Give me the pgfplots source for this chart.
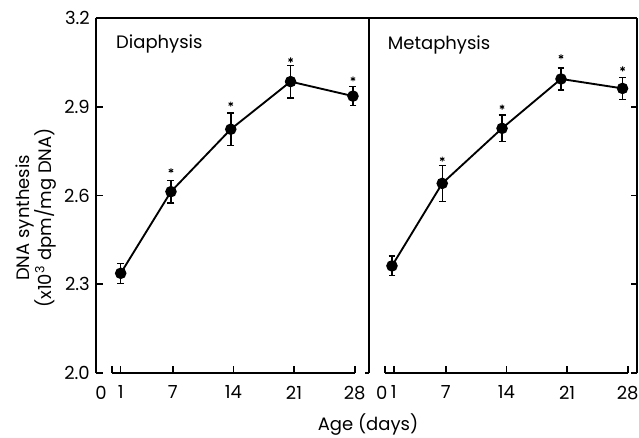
\documentclass[border=0pt]{standalone}
\usepackage{pgfplots}
\pgfplotsset{compat=1.18}
\usepackage{fontspec}
\setmainfont{Poppins}
\begin{document}
\fontsize{13.5pt}{16pt}\selectfont
\begin{tikzpicture}
\useasboundingbox (0,0) rectangle (479.25pt,327.75pt);
\pgfplotsset{
  panel/.style={
    scale only axis,
    height=266.25pt,
    ymin=2.0, ymax=3.2, xmin=-1.85,
    clip=false,
    separate axis lines,
    axis line style={line width=1.3pt, black},
    x axis line style={draw=none},
    tick align=inside,
    major tick length=5pt,
    tick style={line width=1.2pt, black},
    xtick pos=left,
    xtick={1,7,14,21,28},
    extra x ticks={0},
    extra x tick labels={0},
    ytick={2.0,2.3,2.6,2.9,3.2},
    /pgf/number format/assume math mode=true,
    yticklabel style={/pgf/number format/.cd, fixed, fixed zerofill, precision=1},
    xticklabel style={yshift=-5pt},
    every tick label/.append style={font=\fontsize{13.5pt}{16pt}\selectfont},
    label style={font=\fontsize{13.5pt}{16.5pt}\selectfont},
  },
  dataplot/.style={black, line width=1.4pt, mark=*, mark size=3.6pt,
    mark options={solid},
    error bars/.cd, y dir=both, y explicit,
    error bar style={line width=1.1pt},
    error mark options={rotate=90, mark size=2.6pt, line width=1.1pt}},
  starplot/.style={only marks, black, mark=asterisk, mark size=1.9pt, line width=0.7pt},
}
% Left panel: Diaphysis
\begin{axis}[panel, name=left,
  at={(72pt,48pt)}, anchor=south west,
  width=204.75pt, xmax=29.65,
  ytick pos=left,
  extra x tick style={xticklabel style={xshift=-8.3pt}},
  ylabel={DNA synthesis\\(x10\textsuperscript{3} dpm/mg DNA)},
  ylabel style={align=center, at={(axis description cs:-0.22,0.437)}, anchor=center},
]
\addplot[dataplot] coordinates {
  (1,2.337) +- (0,0.034)
  (6.8,2.613) +- (0,0.038)
  (13.7,2.824) +- (0,0.055)
  (20.6,2.985) +- (0,0.055)
  (27.8,2.936) +- (0,0.032)
};
\addplot[starplot] coordinates {
  (6.8,2.684) (13.7,2.909) (20.6,3.058) (27.8,2.994)
};
\draw[line width=1.3pt] (rel axis cs:0,1) -- (rel axis cs:1,1);
\draw[line width=1.3pt] (axis cs:0,2.0) -- (axis cs:28,2.0);
\draw[line width=1.3pt] (rel axis cs:0,0) -- (axis cs:-1.2,2.0);
\draw[line width=1.3pt] (rel axis cs:1,0) -- (axis cs:29.2,2.0);
\node[anchor=base west] at (axis description cs:0.051,0.9155) {Diaphysis};
\end{axis}
% Right panel: Metaphysis
\begin{axis}[panel, name=right,
  at={(276.75pt,48pt)}, anchor=south west,
  width=201.2pt, xmax=29.1,
  ytick pos=right, yticklabel={\relax},
  extra x tick style={xticklabel style={xshift=-2.5pt}},
]
\addplot[dataplot] coordinates {
  (0.8,2.362) +- (0,0.033)
  (6.6,2.641) +- (0,0.061)
  (13.5,2.827) +- (0,0.045)
  (20.3,2.994) +- (0,0.037)
  (27.4,2.962) +- (0,0.037)
};
\addplot[starplot] coordinates {
  (6.6,2.723) (13.5,2.899) (20.3,3.069) (27.4,3.028)
};
\draw[line width=1.3pt] (rel axis cs:0,1) -- (rel axis cs:1,1);
\draw[line width=1.3pt] (axis cs:0,2.0) -- (axis cs:28,2.0);
\node[anchor=base west] at (axis description cs:0.047,0.912) {Metaphysis};
\end{axis}
\node[anchor=base] at (276pt,5.25pt) {Age (days)};
\end{tikzpicture}
\end{document}
